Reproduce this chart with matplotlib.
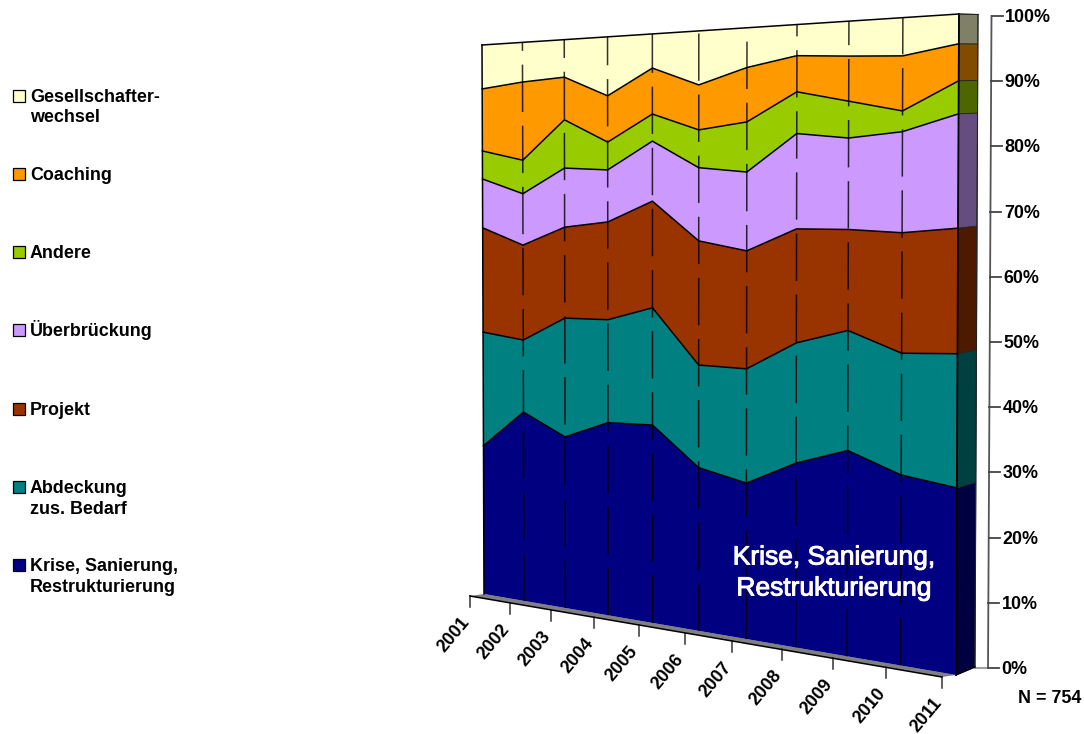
import numpy as np
import matplotlib
matplotlib.use('Agg')
import matplotlib.pyplot as plt
import matplotlib.patheffects as pe

plt.rcParams['font.family'] = ['Liberation Sans', 'DejaVu Sans']

# Data (percent per year, bottom to top)

years = ['2001', '2002', '2003', '2004', '2005', '2006', '2007', '2008', '2009', '2010', '2011']
krise = [27.0, 33.8, 30.1, 33.3, 33.6, 27.2, 25.5, 29.6, 32.4, 29.4, 28.3]
abdeckung = [20.7, 12.9, 20.9, 17.8, 19.9, 17.1, 18.7, 19.3, 18.9, 18.8, 20.3]
projekt = [19.0, 17.0, 16.0, 16.9, 18.1, 20.7, 19.3, 18.3, 15.9, 18.6, 19.0]
ueberbrueckung = [8.9, 9.2, 10.4, 9.0, 10.2, 12.2, 12.9, 15.3, 14.4, 15.6, 17.3]
andere = [5.1, 6.0, 8.5, 4.8, 4.6, 6.3, 8.2, 6.7, 5.8, 3.2, 5.0]
coaching = [11.3, 14.0, 7.5, 8.0, 7.8, 7.5, 8.9, 5.8, 7.1, 8.5, 5.6]
gesellschafter = [8.0, 7.1, 6.6, 10.2, 5.8, 9.0, 6.5, 5.0, 5.5, 5.9, 4.5]

series = [krise, abdeckung, projekt, ueberbrueckung, andere, coaching, gesellschafter]
labels = ['Krise, Sanierung,\nRestrukturierung', 'Abdeckung\nzus. Bedarf', 'Projekt',
          'Überbrückung', 'Andere', 'Coaching', 'Gesellschafter-\nwechsel']
colors = ['#000080', '#008080', '#993300', '#CC99FF', '#99CC00', '#FF9900', '#FFFFCC']
side_colors = ['#000040', '#004040', '#4D1A00', '#664D80', '#4D6600', '#804D00', '#808066']
ticks_pct = [0, 10, 20, 30, 40, 50, 60, 70, 80, 90, 100]

# Projection of the 3D look onto pixel coordinates

def front_x(i, p):
    u = np.asarray(i) / (len(years) - 1)
    s = u / (u + (1 - u) * 1.2)
    return 484 + 472 * s + np.asarray(p) / 100 * (-2 + 5 * s)

def front_y(i, p):
    u = np.asarray(i) / (len(years) - 1)
    s = u / (u + (1 - u) * 1.2)
    bottom = 594 + 81 * s
    top = 45 - 31 * s
    return bottom + (top - bottom) * np.asarray(p) / 100

def back_x(p):
    return 975 + 3 * np.asarray(p) / 100

def back_y(p):
    return 667 + (14.5 - 667) * np.asarray(p) / 100

# Graph

fig = plt.figure(figsize=(10.84, 7.34), dpi=100)
ax = fig.add_axes([0, 0, 1, 1])
ax.set_xlim(0, 1084)
ax.set_ylim(734, 0)
ax.axis('off')

idx = np.arange(len(years))
last = idx[-1]
lower = np.zeros(len(years))

for values, col, side in zip(series, colors, side_colors):
    upper = lower + np.array(values)
    if col == colors[-1]:
        upper = np.full(len(years), 100.0)
    xs = np.r_[front_x(idx, upper), front_x(idx, lower)[::-1]]
    ys = np.r_[front_y(idx, upper), front_y(idx, lower)[::-1]]
    ax.fill(xs, ys, color=col, lw=0, zorder=2)
    ax.plot(front_x(idx, upper), front_y(idx, upper), color='k', lw=1.1, zorder=4)

    # right side wall
    pl, pu = lower[-1], upper[-1]
    ax.fill([front_x(last, pl), back_x(pl), back_x(pu), front_x(last, pu)],
            [front_y(last, pl), back_y(pl), back_y(pu), front_y(last, pu)],
            facecolor=side, edgecolor='#222222', lw=0.6, zorder=2)
    lower = upper

# dashed year lines, running upward from the floor
for i in idx[1:-1]:
    ax.plot([front_x(i, 0), front_x(i, 100)], [front_y(i, 0), front_y(i, 100)],
            color='k', lw=1.1, alpha=0.8, zorder=3,
            dashes=(31, 9), dash_capstyle='butt')

# outer edges
ax.plot(front_x(0, np.array([0, 100])), front_y(0, np.array([0, 100])), color='k', lw=1.1, zorder=4)
ax.plot(front_x(last, np.array([0, 100])), front_y(last, np.array([0, 100])), color='k', lw=1.3, zorder=4)
ax.plot(back_x(np.array([0, 100])), back_y(np.array([0, 100])), color='#222222', lw=0.8, zorder=4)
ax.plot([front_x(last, 100), back_x(100)], [front_y(last, 100), back_y(100)], color='#222222', lw=0.8, zorder=4)
ax.plot([front_x(last, 0), back_x(0)], [front_y(last, 0), back_y(0)], color='k', lw=1.0, zorder=4)

# floor strip and year ticks
shift_x, shift_y = -14, 2
fx, fy = front_x(idx, 0), front_y(idx, 0)
ax.fill(np.r_[fx, (fx + shift_x)[::-1]], np.r_[fy, (fy + shift_y)[::-1]], color='#808080', lw=0, zorder=1)
ax.plot(fx + shift_x, fy + shift_y, color='k', lw=1.1, zorder=4)
for i, year in enumerate(years):
    ax.plot([fx[i] + shift_x] * 2, [fy[i] + shift_y, fy[i] + shift_y + 11], color='#333333', lw=1.1)
    ax.text(fx[i] + shift_x - 10, fy[i] + shift_y + 18, year, rotation=50, rotation_mode='anchor',
            ha='right', va='top', fontsize=12.85, fontweight='bold', color='k')

# value axis
def axis_x(p):
    return 988 + 3.5 * np.asarray(p) / 100

def axis_y(p):
    return 668 + (16 - 668) * np.asarray(p) / 100

ax.plot(axis_x(np.array([0, 100])), axis_y(np.array([0, 100])), color='#555555', lw=1.3)
ax.plot([back_x(0), axis_x(0)], [back_y(0) + 0.5, axis_y(0) - 0.5], color='#A0A0A0', lw=1.5)
for p in ticks_pct:
    ax.plot([axis_x(p), axis_x(p) + 11], [axis_y(p)] * 2, color='#444444', lw=1.3)
    ax.text(axis_x(p) + 13.5, axis_y(p) + 6, f'{p}%', ha='left', va='baseline',
            fontsize=12.85, fontweight='bold', color='k')

ax.text(1081, 703, 'N = 754', ha='right', va='baseline', fontsize=12.85, fontweight='bold', color='k')

# legend
legend_y = [565, 487, 409, 330, 252, 174, 96]
for label, col, y in zip(labels, colors, legend_y):
    ax.add_patch(plt.Rectangle((13.5, y - 5), 12, 12, facecolor='#909090', edgecolor='none'))
    ax.add_patch(plt.Rectangle((12.5, y - 6), 12, 12, facecolor=col, edgecolor='k', lw=0.9))
    for j, line in enumerate(label.split('\n')):
        ax.text(30, y + 6 + 20.5 * j, line, ha='left', va='baseline',
                fontsize=12.85, fontweight='bold', color='k')

# big label on the area
halo = [pe.withStroke(linewidth=0.7, foreground='white')]
ax.text(834, 555, 'Krise, Sanierung,', ha='center', va='center_baseline', fontsize=19, color='white',
        zorder=6, path_effects=halo)
ax.text(834, 586, 'Restrukturierung', ha='center', va='center_baseline', fontsize=19, color='white',
        zorder=6, path_effects=halo)

fig.savefig('out.png', dpi=100)
